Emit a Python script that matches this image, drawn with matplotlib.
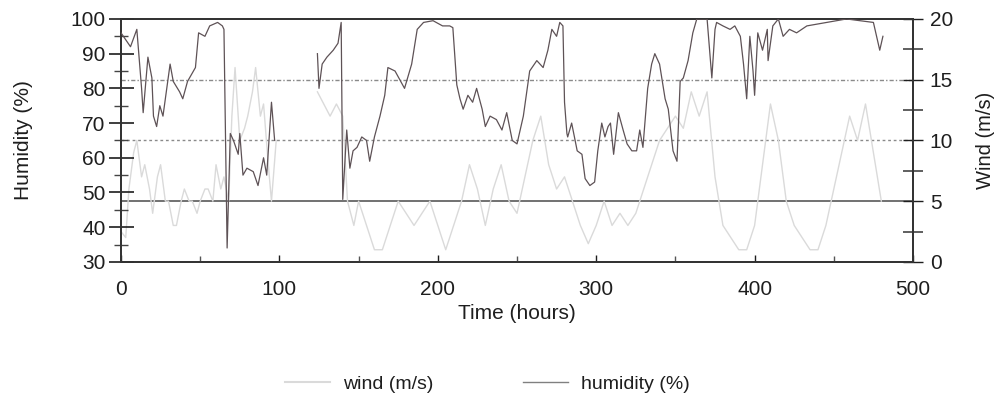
import numpy as np
import matplotlib
matplotlib.use("Agg")
import matplotlib.pyplot as plt
from matplotlib.ticker import MultipleLocator
from matplotlib.lines import Line2D

plt.rcParams['font.family'] = ['Liberation Sans', 'DejaVu Sans']

# Humidity (%) - two recorded segments
hum_t1 = [0, 3, 6, 10, 13, 14, 17, 19.5, 20.5, 22.5, 24.5, 26.5, 31, 33, 37, 39, 42, 47, 49,
          53, 56, 61, 64, 65, 67, 69, 71, 74, 75, 77, 79.5, 83.5, 86.5, 90, 92, 95, 97]
hum_v1 = [96, 94, 92, 97, 80, 73, 89, 83, 72, 69, 75, 72, 87, 82, 79, 77, 82, 86, 96,
          95, 98, 99, 98, 97, 34, 67, 65, 61, 67, 55, 57, 56, 52, 60, 55, 76, 65]
hum_t2 = [124, 125, 127, 130, 134, 137, 139, 140, 142.5, 144.5, 146.5, 149, 152, 155, 157, 160,
          163.5, 166.5, 168.5, 173, 179, 183.5, 187, 191, 197, 203, 207.5, 209.5, 212, 214,
          216, 219, 222, 224.5, 228, 230, 233, 237, 240.5, 243.5, 247, 250, 254, 258, 262.5,
          266.5, 269.5, 272, 275, 277, 279, 280, 281.5, 282, 284.5, 288, 291, 293, 296, 299,
          301, 303.5, 305.5, 307.5, 309, 311, 314, 317, 319.5, 322.5, 325.5, 327.5, 329.5,
          332.5, 335, 337, 340, 343.5, 345.5, 348.5, 351, 353, 355, 358, 361, 363.5, 370,
          373, 375, 376, 380, 384.5, 387.5, 391, 393, 395, 397, 399, 400, 402, 405, 408,
          408.5, 411.5, 415, 418, 422, 426.5, 433, 445.5, 458, 466.5, 475, 477, 479, 481]
hum_v2 = [90, 80, 87, 89, 91, 93, 99, 48, 68, 57, 62, 63, 66, 65, 59, 66,
          72, 78, 86, 85, 80, 87, 97, 99, 99.5, 98, 98, 97.5, 81, 77,
          74, 78, 76, 80, 74, 69, 72, 71, 68, 73, 65, 64, 72, 85, 88,
          86, 91, 97, 95, 99, 98, 76, 67, 66, 70, 62, 61, 54, 52, 53,
          62, 70, 66, 69, 70, 61, 73, 68, 64, 62, 62, 68, 63,
          80, 87, 90, 87, 77, 74, 62, 59, 82, 83, 88, 96, 100, 100,
          83, 97, 99, 98, 97, 98, 95, 87, 77, 95, 85, 78, 96, 91, 97,
          88, 98, 100, 95, 97, 96, 98, 99, 100, 99.5, 99, 95, 91, 95]

# Wind (m/s) - two recorded segments
wind_t1 = [0, 3, 5, 8, 10, 13, 15, 18, 20, 23, 25, 28, 30, 33, 35, 38, 40, 43, 45, 48, 50,
           53, 55, 58, 60, 63, 65, 68, 70, 72, 75, 78, 80, 83, 85, 88, 90, 93, 95, 98]
wind_v1 = [2.5, 2, 6, 9, 10, 7, 8, 6, 4, 7, 8, 5, 5, 3, 3, 5, 6, 5, 5, 4, 5,
           6, 6, 5, 8, 6, 7, 5, 12, 16, 10, 11, 12, 14, 16, 12, 13, 8, 5, 10]
wind_t2 = [124, 128, 132, 136, 140, 143, 147, 150, 155, 160, 165, 170, 175, 180, 185, 190,
           195, 200, 205, 210, 215, 220, 225, 230, 235, 240, 245, 250, 255, 260, 265, 270,
           275, 280, 285, 290, 295, 300, 305, 310, 315, 320, 325, 330, 335, 340, 345, 350,
           355, 360, 365, 370, 375, 380, 385, 390, 395, 400, 405, 410, 415, 420, 425, 430,
           435, 440, 445, 450, 455, 460, 465, 470, 475, 480]
wind_v2 = [14, 13, 12, 13, 12, 5, 3, 5, 3, 1, 1, 3, 5, 4, 3, 4,
           5, 3, 1, 3, 5, 8, 6, 3, 6, 8, 5, 4, 7, 10, 12, 8,
           6, 7, 5, 3, 1.5, 3, 5, 3, 4, 3, 4, 6, 8, 10, 11, 12,
           11, 14, 12, 14, 7, 3, 2, 1, 1, 3, 8, 13, 10, 5, 3, 2,
           1, 1, 3, 6, 9, 12, 10, 13, 9, 5]

fig = plt.figure(figsize=(9.95, 3.95), dpi=100)
ax = fig.add_axes([0.1216, 0.337, 0.7960, 0.615])
ax2 = ax.twinx()

wind_col = '#dadada'
hum_col = '#5e5256'
txt_col = '#1e1e1e'
FS = 15

ax2.plot(wind_t1, wind_v1, color=wind_col, lw=1.0, zorder=2)
ax2.plot(wind_t2, wind_v2, color=wind_col, lw=1.0, zorder=2)
ax2.set_ylim(0, 20)
ax2.yaxis.set_major_locator(MultipleLocator(5))
ax2.yaxis.set_minor_locator(MultipleLocator(2.5))

# grid lines from the wind axis
ax2.axhline(5, color='#4a4a4a', lw=1.1, zorder=1)
ax2.axhline(10, color='#8a8a8a', lw=1.0, ls=(0, (2, 2)), zorder=1)
ax2.axhline(15, color='#8a8a8a', lw=1.0, ls=(0, (3, 1.5, 1, 1.5)), zorder=1)

ax.set_zorder(ax2.get_zorder() + 1)
ax.patch.set_visible(False)
ax.plot(hum_t1, hum_v1, color=hum_col, lw=0.9, zorder=3)
ax.plot(hum_t2, hum_v2, color=hum_col, lw=0.9, zorder=3)
ax.set_xlim(0, 500)
ax.set_ylim(30, 100)
ax.yaxis.set_major_locator(MultipleLocator(10))
ax.yaxis.set_minor_locator(MultipleLocator(5))
ax.xaxis.set_major_locator(MultipleLocator(100))
ax.xaxis.set_minor_locator(MultipleLocator(50))

for a in (ax, ax2):
    for s in a.spines.values():
        s.set_color('#333333')
        s.set_linewidth(1.3)

ax.tick_params(axis='y', which='major', direction='inout', length=18, width=1.2,
               labelsize=FS, colors=txt_col, pad=2)
ax.tick_params(axis='y', which='minor', direction='inout', length=10, width=1.0, colors='#444444')
ax.tick_params(axis='x', which='major', direction='in', length=5, width=1.0,
               labelsize=FS, colors=txt_col, pad=13)
ax.tick_params(axis='x', which='minor', direction='in', length=4, width=1.0, colors='#555555')
ax2.tick_params(axis='y', which='major', direction='inout', length=14, width=1.0,
                labelsize=FS, colors=txt_col, pad=5)
ax2.tick_params(axis='y', which='minor', direction='inout', length=14, width=1.2, colors='#444444')

ax.set_xlabel('Time (hours)', fontsize=FS, color=txt_col)
ax.xaxis.set_label_coords(0.5, -0.173)
ax.set_ylabel('Humidity (%)', fontsize=FS, color=txt_col)
ax.yaxis.set_label_coords(-0.111, 0.5)
ax2.set_ylabel('Wind (m/s)', fontsize=FS - 0.5, color=txt_col, rotation=90)
ax2.yaxis.set_label_coords(1.079, 0.5)

handles = [Line2D([], [], color=wind_col, lw=1.5), Line2D([], [], color='#808080', lw=1.0)]
fig.legend(handles, ['wind (m/s)', 'humidity (%)'], loc='center', bbox_to_anchor=(0.49, 0.027),
           ncol=2, frameon=False, fontsize=FS - 1, handlelength=2.3, columnspacing=4.6,
           handletextpad=0.7, labelcolor=txt_col)

fig.savefig('out.png', dpi=100, facecolor='white')
